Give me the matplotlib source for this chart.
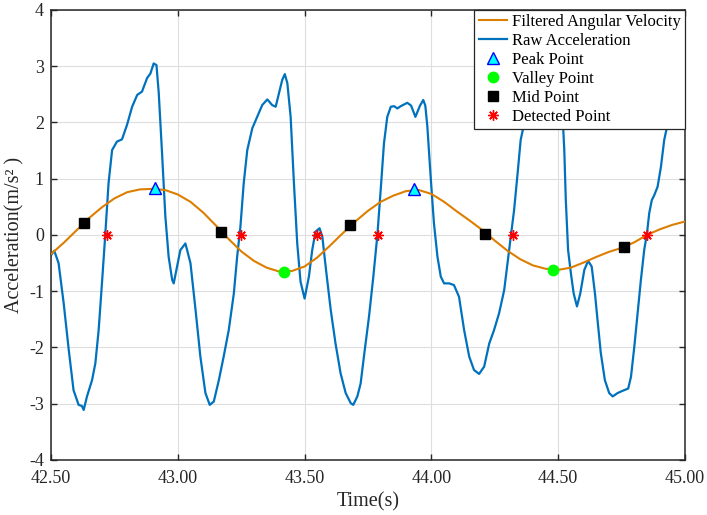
import matplotlib
matplotlib.use("Agg")
import matplotlib.pyplot as plt

plt.rcParams['font.family'] = ['Liberation Serif', 'DejaVu Serif']

# Raw acceleration (time in s, value in m/s^2)
raw_t = [42.500, 42.513, 42.530, 42.550, 42.570, 42.589, 42.609, 42.622, 42.629, 42.642,
         42.662, 42.675, 42.688, 42.701, 42.714, 42.727, 42.741, 42.760, 42.780, 42.800,
         42.820, 42.840, 42.859, 42.879, 42.892, 42.905, 42.916, 42.925, 42.938, 42.951,
         42.964, 42.978, 42.984, 43.010, 43.030, 43.050, 43.070, 43.089, 43.109, 43.126,
         43.142, 43.162, 43.181, 43.201, 43.221, 43.234, 43.247, 43.260, 43.274, 43.294,
         43.313, 43.333, 43.353, 43.372, 43.386, 43.399, 43.412, 43.422, 43.432, 43.445,
         43.458, 43.471, 43.484, 43.500, 43.517, 43.530, 43.543, 43.559, 43.570, 43.583,
         43.603, 43.622, 43.642, 43.662, 43.682, 43.692, 43.708, 43.721, 43.734, 43.754,
         43.771, 43.787, 43.800, 43.813, 43.826, 43.840, 43.853, 43.866, 43.879, 43.892,
         43.905, 43.920, 43.937, 43.955, 43.968, 43.976, 43.984, 43.997, 44.010, 44.024,
         44.037, 44.050, 44.070, 44.089, 44.109, 44.129, 44.149, 44.168, 44.188, 44.208,
         44.228, 44.247, 44.267, 44.287, 44.300, 44.313, 44.326, 44.340, 44.352, 44.362,
         44.375, 44.400, 44.430, 44.460, 44.490, 44.515, 44.520, 44.524, 44.530, 44.539,
         44.550, 44.561, 44.574, 44.587, 44.603, 44.618, 44.632, 44.645, 44.655, 44.668,
         44.684, 44.701, 44.715, 44.734, 44.754, 44.776, 44.787, 44.800, 44.813, 44.826,
         44.839, 44.850, 44.859, 44.869, 44.879, 44.892, 44.905, 44.918, 44.928, 44.940,
         44.960, 44.980, 45.000]
raw_acc = [-0.36, -0.28, -0.50, -1.21, -2.04, -2.76, -3.02, -3.04, -3.11, -2.87,
           -2.58, -2.28, -1.69, -0.86, 0.00, 0.92, 1.51, 1.66, 1.70, 1.96,
           2.28, 2.49, 2.55, 2.79, 2.87, 3.05, 3.02, 2.52, 1.45, 0.33,
           -0.39, -0.80, -0.86, -0.27, -0.15, -0.50, -1.33, -2.16, -2.81, -3.02,
           -2.96, -2.58, -2.16, -1.69, -1.04, -0.39, 0.15, 0.92, 1.51, 1.90,
           2.10, 2.31, 2.41, 2.31, 2.28, 2.52, 2.76, 2.86, 2.70, 2.10,
           0.92, -0.15, -0.83, -1.13, -0.74, -0.27, 0.06, 0.12, -0.03, -0.56,
           -1.33, -1.93, -2.46, -2.81, -2.99, -3.02, -2.87, -2.64, -2.16, -1.45,
           -0.74, 0.00, 0.80, 1.63, 2.10, 2.28, 2.29, 2.25, 2.29, 2.32,
           2.35, 2.30, 2.10, 2.30, 2.40, 2.30, 1.93, 1.04, 0.21, -0.39,
           -0.74, -0.86, -0.86, -0.89, -1.10, -1.69, -2.16, -2.40, -2.47, -2.34,
           -1.93, -1.69, -1.39, -0.98, -0.50, -0.03, 0.44, 1.10, 1.69, 1.90,
           2.30, 3.00, 3.20, 3.10, 2.70, 2.10, 1.87, 1.51, 0.62, -0.27,
           -0.68, -1.04, -1.27, -1.04, -0.62, -0.46, -0.56, -1.04, -1.51, -2.10,
           -2.58, -2.81, -2.87, -2.81, -2.77, -2.73, -2.52, -1.99, -1.39, -0.80,
           -0.27, 0.03, 0.39, 0.62, 0.71, 0.86, 1.21, 1.69, 1.90, 2.30,
           2.80, 3.10, 3.30]

# Filtered angular velocity
filt_t = [42.50, 42.55, 42.60, 42.65, 42.70, 42.75, 42.80, 42.85, 42.90, 42.95,
          43.00, 43.05, 43.10, 43.15, 43.20, 43.25, 43.30, 43.35, 43.40, 43.45,
          43.50, 43.55, 43.60, 43.65, 43.70, 43.75, 43.80, 43.85, 43.90, 43.95,
          44.00, 44.05, 44.10, 44.15, 44.20, 44.25, 44.30, 44.35, 44.40, 44.45,
          44.50, 44.55, 44.60, 44.65, 44.70, 44.75, 44.80, 44.85, 44.90, 44.95,
          45.00]
filt_vel = [-0.34, -0.14, 0.08, 0.30, 0.49, 0.65, 0.76, 0.81, 0.82, 0.80,
            0.72, 0.59, 0.40, 0.17, -0.07, -0.29, -0.46, -0.58, -0.65, -0.64,
            -0.56, -0.40, -0.19, 0.03, 0.24, 0.43, 0.59, 0.70, 0.78, 0.80,
            0.73, 0.59, 0.42, 0.26, 0.09, -0.10, -0.28, -0.43, -0.54, -0.60,
            -0.62, -0.58, -0.49, -0.39, -0.30, -0.23, -0.13, 0.00, 0.10, 0.18,
            0.24]

peak_t = [42.91, 43.93]
peak_v = [0.83, 0.81]
valley_t = [43.42, 44.48]
valley_v = [-0.65, -0.62]
mid_t = [42.63, 43.17, 43.68, 44.21, 44.76]
mid_v = [0.21, 0.06, 0.18, 0.02, -0.21]
det_t = [42.72, 43.25, 43.55, 43.79, 44.32, 44.85]
det_v = [0, 0, 0, 0, 0, 0]

xticks = [42.5, 43.0, 43.5, 44.0, 44.5, 45.0]
yticks = [-4, -3, -2, -1, 0, 1, 2, 3, 4]

dark = '#262626'

fig = plt.figure(figsize=(7.07, 5.15), dpi=100)
ax = fig.add_axes([0.0721, 0.1068, 0.8968, 0.8738])

ax.plot(filt_t, filt_vel, color='#DD7E00', lw=1.5, label='Filtered Angular Velocity', zorder=3)
ax.plot(raw_t, raw_acc, color='#0072BD', lw=1.6, label='Raw Acceleration', zorder=2)
ax.plot(peak_t, peak_v, ls='none', marker='^', ms=8, mfc='#00FFFF', mec='#0000FF', mew=1.0,
        label='Peak Point', zorder=5)
ax.plot(valley_t, valley_v, ls='none', marker='o', ms=7.5, mfc='#00FF00', mec='#00FF00',
        label='Valley Point', zorder=5)
ax.plot(mid_t, mid_v, ls='none', marker='s', ms=7, mfc='black', mec='black',
        label='Mid Point', zorder=5)
ax.plot(det_t, det_v, ls='none', marker=(8, 2, 0), ms=7.5, mec='red', mew=1.0, color='red',
        label='Detected Point', zorder=5)

ax.set_xlim(42.5, 45.0)
ax.set_ylim(-4, 4)
ax.set_xticks(xticks)
ax.set_xticklabels(['%.2f' % x for x in xticks])
ax.set_yticks(yticks)
ax.set_yticklabels([str(y) for y in yticks])
ax.grid(True, color='#dedede', lw=0.8)
ax.set_axisbelow(True)

ax.tick_params(direction='in', top=True, right=True, length=4, width=1,
               colors=dark, labelsize=13)
ax.tick_params(axis='x', pad=7)
ax.tick_params(axis='y', pad=5)
for s in ax.spines.values():
    s.set_color(dark)
    s.set_linewidth(1.1)

ax.set_xlabel('Time(s)', fontsize=14.5, color=dark, labelpad=4)
ax.set_ylabel('Acceleration(m/s² )', fontsize=14.5, color=dark, labelpad=3)

leg = ax.legend(loc='upper right', borderaxespad=0, fontsize=12, fancybox=False,
                framealpha=1, edgecolor=dark, labelspacing=0.18, handlelength=1.7,
                handletextpad=0.3, borderpad=0.25)
leg.get_frame().set_linewidth(0.9)
leg.set_zorder(10)

fig.savefig('out.png', dpi=100)
